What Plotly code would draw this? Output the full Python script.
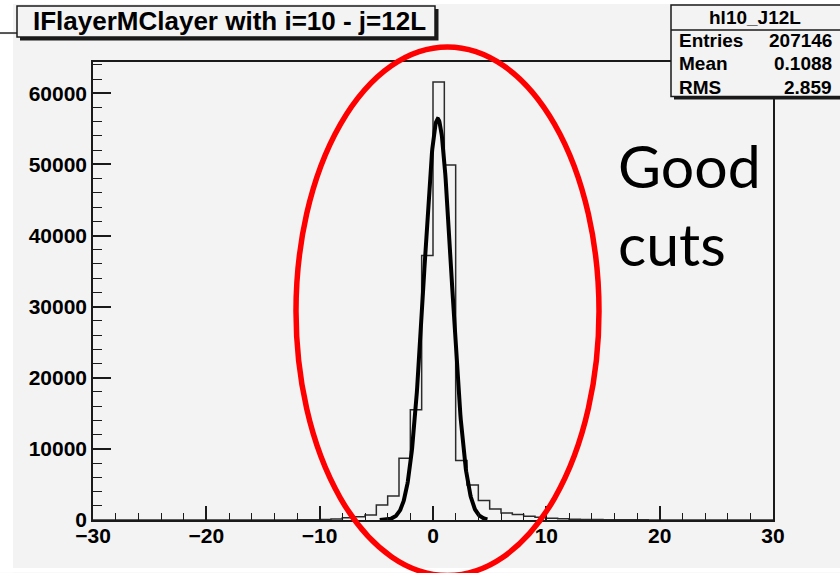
import numpy as np
import plotly.graph_objects as go

# ---- histogram hl10_J12L: 60 bins from -30 to 30 ----
bin_edges = list(range(-30, 31))
counts = ([0] * 17 +
          [10, 25, 45, 80, 140, 300, 450, 720, 2110, 3380,
           8700, 15500, 37200, 61600, 49900, 8350, 4930, 2750, 1550, 1000,
           760, 540, 400, 260, 175, 120, 85, 65, 50, 40,
           30, 22, 12] +
          [0] * 10)
assert len(counts) == len(bin_edges) - 1

# ---- gaussian fit parameters ----
fit_const = 56400
fit_mean = 0.42
fit_sigma = 1.22
fit_range = (-4.7, 4.8)

# ---- texts ----
title_text = "IFlayerMClayer with i=10 - j=12L"
hist_name = "hl10_J12L"
stat_labels = ["Entries", "Mean", "RMS"]
stat_values = ["207146", "0.1088", "2.859"]
note_lines = ["Good", "cuts"]

x_ticks = [-30, -20, -10, 0, 10, 20, 30]
y_ticks = [0, 10000, 20000, 30000, 40000, 50000, 60000]

# ---- page geometry (pixels) ----
W, H = 840, 573
L, R, T, B = 93, 773, 62, 520.5
BG = "#f3f3f3"
INK = "#1a1a1a"
BOLD = "Liberation Sans"


def px(x):
    return (x - L) / (R - L)


def py(y):
    return (B - y) / (B - T)


fig = go.Figure()

# histogram outline drawn as a step line
step_x = bin_edges
step_y = counts + [counts[-1]]
fig.add_trace(go.Scatter(x=step_x, y=step_y, mode="lines",
                         line=dict(color="#2b2b2b", width=1.5, shape="hv"),
                         hoverinfo="skip"))

# fitted gaussian
fx = np.linspace(fit_range[0], fit_range[1], 300)
fy = fit_const * np.exp(-0.5 * ((fx - fit_mean) / fit_sigma) ** 2)
fig.add_trace(go.Scatter(x=fx, y=fy, mode="lines",
                         line=dict(color="black", width=4),
                         hoverinfo="skip"))

shapes = []
# white margins around the canvas
for x0, y0, x1, y1 in [(0, 0, W, 4), (0, 0, 13, H), (0, 568.5, W, H)]:
    shapes.append(dict(type="rect", xref="paper", yref="paper",
                       x0=px(x0), x1=px(x1), y0=py(y1), y1=py(y0),
                       fillcolor="white", line_width=0, layer="above"))
shapes.append(dict(type="line", xref="paper", yref="paper",
                   x0=px(0), x1=px(17), y0=py(33), y1=py(33),
                   line=dict(color="#555555", width=2), layer="above"))

# title box with shadow
shapes.append(dict(type="rect", xref="paper", yref="paper",
                   x0=px(20), x1=px(438.5), y0=py(40.5), y1=py(9),
                   fillcolor=INK, line_width=0, layer="above"))
shapes.append(dict(type="rect", xref="paper", yref="paper",
                   x0=px(17), x1=px(435), y0=py(37), y1=py(6),
                   fillcolor=BG, line=dict(color=INK, width=1.5), layer="above"))

# statistics box with shadow
shapes.append(dict(type="rect", xref="paper", yref="paper",
                   x0=px(674), x1=px(850), y0=py(99.5), y1=py(8),
                   fillcolor=INK, line_width=0, layer="above"))
shapes.append(dict(type="rect", xref="paper", yref="paper",
                   x0=px(671), x1=px(848), y0=py(96.5), y1=py(5),
                   fillcolor=BG, line=dict(color=INK, width=1.5), layer="above"))
shapes.append(dict(type="line", xref="paper", yref="paper",
                   x0=px(671), x1=px(848), y0=py(30), y1=py(30),
                   line=dict(color=INK, width=1.5), layer="above"))

# red ellipse around the peak
shapes.append(dict(type="circle", xref="paper", yref="paper",
                   x0=px(296), x1=px(599), y0=py(576), y1=py(47),
                   line=dict(color="#ff0000", width=5.5), layer="above"))

annotations = [
    dict(text="<b>%s</b>" % title_text, xref="paper", yref="paper",
         x=px(229.5), y=py(21), xanchor="center", yanchor="middle",
         showarrow=False, font=dict(family=BOLD, size=26, color="black")),
    dict(text="<b>%s</b>" % hist_name, xref="paper", yref="paper",
         x=px(755), y=py(17.5), xanchor="center", yanchor="middle",
         showarrow=False, font=dict(family=BOLD, size=19, color="black")),
]
for i, (lab, val) in enumerate(zip(stat_labels, stat_values)):
    yy = 40.5 + i * 23.5
    annotations.append(dict(text="<b>%s</b>" % lab, xref="paper", yref="paper",
                            x=px(677), y=py(yy), xanchor="left", yanchor="middle",
                            showarrow=False,
                            font=dict(family=BOLD, size=19, color="black")))
    annotations.append(dict(text="<b>%s</b>" % val, xref="paper", yref="paper",
                            x=px(834), y=py(yy), xanchor="right", yanchor="middle",
                            showarrow=False,
                            font=dict(family=BOLD, size=19, color="black")))
for i, line in enumerate(note_lines):
    annotations.append(dict(text=line, xref="paper", yref="paper",
                            x=px(616), y=py(166 + i * 78), xanchor="left",
                            yanchor="middle", showarrow=False,
                            font=dict(family="Lato", size=59, color="black")))

axis_common = dict(showgrid=False, zeroline=False, showline=True, mirror=True,
                   linecolor=INK, linewidth=1.5, ticks="inside",
                   tickcolor=INK, tickwidth=1.5,
                   tickfont=dict(family=BOLD, size=21, color="black",
                                 weight="bold"))

fig.update_layout(
    width=W, height=H, autosize=False,
    margin=dict(l=L, r=W - R, t=T, b=H - B, pad=0),
    paper_bgcolor=BG, plot_bgcolor=BG,
    showlegend=False,
    xaxis=dict(range=[-30, 30], tickvals=x_ticks, ticklen=14,
               ticklabelstandoff=-4,
               minor=dict(dtick=2, ticks="inside", ticklen=7,
                          tickcolor=INK, tickwidth=1.2),
               **axis_common),
    yaxis=dict(range=[0, 64400], tickvals=y_ticks, ticklen=18,
               tickformat="d",
               minor=dict(dtick=2000, ticks="inside", ticklen=9,
                          tickcolor=INK, tickwidth=1.2),
               **axis_common),
    shapes=shapes,
    annotations=annotations,
)

fig.write_html("out.html")
